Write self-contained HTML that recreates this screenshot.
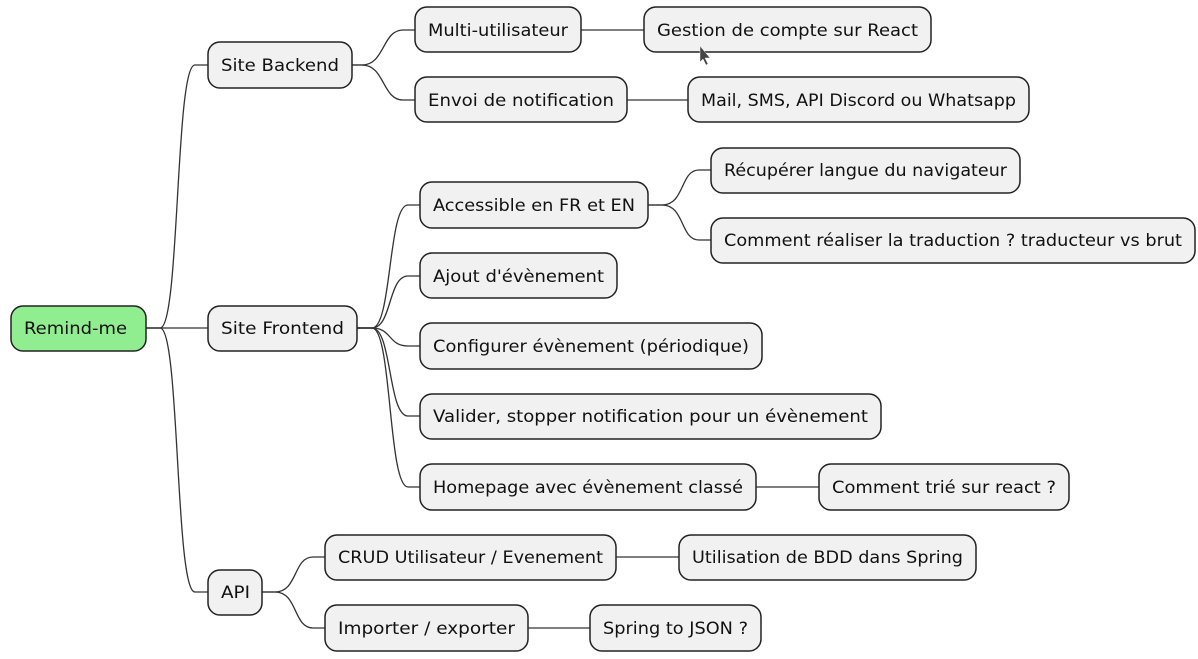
<!DOCTYPE html>
<html><head><meta charset="utf-8"><style>
html,body{margin:0;padding:0;background:#fff;}
svg{display:block;}
text{font-family:"DejaVu Sans","Liberation Sans",sans-serif;font-size:17px;fill:#111;}
</style></head><body>
<svg width="1198" height="659" viewBox="0 0 1198 659" xmlns="http://www.w3.org/2000/svg">
<g fill="none" stroke="#333" stroke-width="1.3">
<path d="M146,328 L160,328 C180,328 175,65 195,65 L208,65"/>
<path d="M146,328 L208,328"/>
<path d="M146,328 L160,328 C180,328 175,592 195,592 L208,592"/>
<path d="M352,65 L362,65 C385,65 382,30 403,30 L415,30"/>
<path d="M352,65 L362,65 C385,65 382,100 403,100 L415,100"/>
<path d="M581,30 L644,30"/>
<path d="M627,100 L688,100"/>
<path d="M357,328 L372,328 C392,328 388,205 408,205 L420,205"/>
<path d="M357,328 L372,328 C392,328 388,276 408,276 L420,276"/>
<path d="M357,328 L372,328 C392,328 388,346 408,346 L420,346"/>
<path d="M357,328 L372,328 C392,328 388,416 408,416 L420,416"/>
<path d="M357,328 L372,328 C392,328 388,487 408,487 L420,487"/>
<path d="M648,205 L662,205 C685,205 680,170 699,170 L711,170"/>
<path d="M648,205 L662,205 C685,205 680,240 699,240 L711,240"/>
<path d="M756,487 L819,487"/>
<path d="M262,592 L275,592 C298,592 293,557 313,557 L325,557"/>
<path d="M262,592 L275,592 C298,592 293,628 313,628 L325,628"/>
<path d="M616,557 L679,557"/>
<path d="M528,628 L590,628"/>
</g>
<g stroke="#222" stroke-width="1.5" fill="#F1F1F1">
<rect x="11" y="306" width="135" height="45" rx="12" fill="#90EE90"/>
<rect x="208" y="42" width="144" height="46" rx="12"/>
<rect x="208" y="306" width="149" height="45" rx="12"/>
<rect x="208" y="570" width="54" height="45" rx="12"/>
<rect x="415" y="7" width="166" height="45" rx="12"/>
<rect x="415" y="77" width="212" height="45" rx="12"/>
<rect x="644" y="7" width="287" height="45" rx="12"/>
<rect x="688" y="77" width="341" height="45" rx="12"/>
<rect x="420" y="182" width="228" height="46" rx="12"/>
<rect x="711" y="148" width="309" height="45" rx="12"/>
<rect x="711" y="218" width="484" height="45" rx="12"/>
<rect x="420" y="253" width="197" height="45" rx="12"/>
<rect x="420" y="323" width="342" height="46" rx="12"/>
<rect x="420" y="394" width="461" height="45" rx="12"/>
<rect x="420" y="464" width="336" height="46" rx="12"/>
<rect x="819" y="464" width="250" height="46" rx="12"/>
<rect x="325" y="535" width="291" height="45" rx="12"/>
<rect x="325" y="605" width="203" height="46" rx="12"/>
<rect x="679" y="535" width="297" height="45" rx="12"/>
<rect x="590" y="605" width="171" height="46" rx="12"/>
</g>
<g>
<text x="24" y="334" textLength="103" lengthAdjust="spacingAndGlyphs">Remind-me</text>
<text x="221" y="71" textLength="118" lengthAdjust="spacingAndGlyphs">Site Backend</text>
<text x="221" y="334" textLength="123" lengthAdjust="spacingAndGlyphs">Site Frontend</text>
<text x="221" y="598" textLength="29" lengthAdjust="spacingAndGlyphs">API</text>
<text x="428" y="36" textLength="140" lengthAdjust="spacingAndGlyphs">Multi-utilisateur</text>
<text x="428" y="106" textLength="186" lengthAdjust="spacingAndGlyphs">Envoi de notification</text>
<text x="657" y="36" textLength="261" lengthAdjust="spacingAndGlyphs">Gestion de compte sur React</text>
<text x="701" y="106" textLength="315" lengthAdjust="spacingAndGlyphs">Mail, SMS, API Discord ou Whatsapp</text>
<text x="433" y="211" textLength="202" lengthAdjust="spacingAndGlyphs">Accessible en FR et EN</text>
<text x="724" y="176" textLength="283" lengthAdjust="spacingAndGlyphs">Récupérer langue du navigateur</text>
<text x="724" y="246" textLength="458" lengthAdjust="spacingAndGlyphs">Comment réaliser la traduction ? traducteur vs brut</text>
<text x="433" y="282" textLength="171" lengthAdjust="spacingAndGlyphs">Ajout d'évènement</text>
<text x="433" y="352" textLength="316" lengthAdjust="spacingAndGlyphs">Configurer évènement (périodique)</text>
<text x="433" y="422" textLength="435" lengthAdjust="spacingAndGlyphs">Valider, stopper notification pour un évènement</text>
<text x="433" y="493" textLength="310" lengthAdjust="spacingAndGlyphs">Homepage avec évènement classé</text>
<text x="832" y="493" textLength="224" lengthAdjust="spacingAndGlyphs">Comment trié sur react ?</text>
<text x="338" y="563" textLength="265" lengthAdjust="spacingAndGlyphs">CRUD Utilisateur / Evenement</text>
<text x="338" y="634" textLength="177" lengthAdjust="spacingAndGlyphs">Importer / exporter</text>
<text x="692" y="563" textLength="271" lengthAdjust="spacingAndGlyphs">Utilisation de BDD dans Spring</text>
<text x="603" y="634" textLength="145" lengthAdjust="spacingAndGlyphs">Spring to JSON ?</text>
</g>
<path d="M700,46 L700,62 L703,59 L706,65 L708,64 L705,58 L710,58 Z" fill="#444" stroke="#eee" stroke-width="0.5"/>
</svg>
</body></html>
